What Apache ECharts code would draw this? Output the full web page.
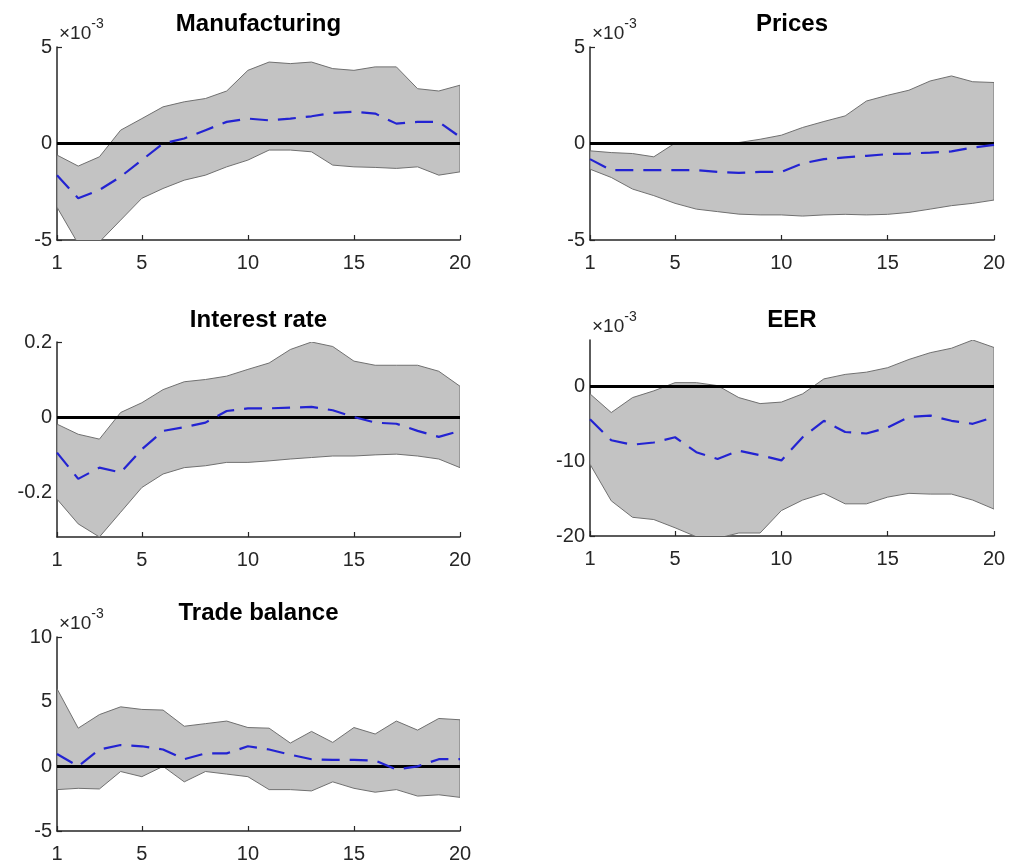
<!DOCTYPE html>
<html>
<head>
<meta charset="utf-8">
<title>Impulse responses</title>
<script src="https://cdn.jsdelivr.net/npm/echarts@6/dist/echarts.min.js"></script>
<style>
  html, body { margin: 0; padding: 0; background: #ffffff; }
  #chart { width: 1013px; height: 867px; }
</style>
</head>
<body>
<div id="chart"></div>
<script>
// Horizons and x tick labels
const horizons = [1, 2, 3, 4, 5, 6, 7, 8, 9, 10, 11, 12, 13, 14, 15, 16, 17, 18, 19, 20];
const xTicks = [1, 5, 10, 15, 20];

// Manufacturing (units of 1e-3): median, lower and upper bands
const mfgMid = [-1.64, -2.84, -2.41, -1.72, -0.86, 0.0, 0.26, 0.69, 1.12, 1.29, 1.2, 1.29, 1.41, 1.59, 1.64, 1.55, 1.03, 1.12, 1.12, 0.34];
const mfgLo  = [-3.3, -5.2, -5.1, -3.97, -2.84, -2.33, -1.9, -1.64, -1.21, -0.86, -0.34, -0.34, -0.43, -1.12, -1.21, -1.24, -1.29, -1.21, -1.64, -1.47];
const mfgHi  = [-0.6, -1.17, -0.69, 0.69, 1.29, 1.9, 2.16, 2.33, 2.72, 3.79, 4.22, 4.14, 4.22, 3.88, 3.79, 3.97, 3.97, 2.84, 2.72, 3.02];

// Prices (units of 1e-3)
const prcMid = [-0.81, -1.38, -1.38, -1.38, -1.38, -1.38, -1.47, -1.52, -1.47, -1.47, -1.03, -0.81, -0.72, -0.64, -0.55, -0.52, -0.47, -0.41, -0.21, -0.07];
const prcLo  = [-1.33, -1.76, -2.36, -2.7, -3.1, -3.4, -3.53, -3.66, -3.7, -3.7, -3.76, -3.7, -3.67, -3.7, -3.67, -3.57, -3.4, -3.22, -3.1, -2.93];
const prcHi  = [-0.38, -0.47, -0.52, -0.69, 0.02, 0.02, 0.03, 0.05, 0.22, 0.43, 0.83, 1.14, 1.43, 2.2, 2.5, 2.76, 3.24, 3.5, 3.2, 3.16];

// Interest rate
const irMid = [-0.095, -0.165, -0.135, -0.148, -0.086, -0.037, -0.027, -0.015, 0.016, 0.023, 0.023, 0.025, 0.027, 0.018, 0.0, -0.015, -0.018, -0.037, -0.053, -0.037];
const irLo  = [-0.219, -0.285, -0.32, -0.254, -0.188, -0.152, -0.135, -0.13, -0.121, -0.121, -0.117, -0.112, -0.108, -0.104, -0.104, -0.101, -0.099, -0.104, -0.112, -0.135];
const irHi  = [-0.019, -0.046, -0.059, 0.012, 0.038, 0.073, 0.094, 0.1, 0.109, 0.127, 0.144, 0.18, 0.2, 0.188, 0.149, 0.138, 0.138, 0.138, 0.122, 0.082];

// EER (units of 1e-3)
const eerMid = [-4.4, -7.2, -7.8, -7.5, -6.8, -8.8, -9.7, -8.6, -9.2, -9.9, -6.8, -4.6, -6.1, -6.3, -5.5, -4.1, -3.9, -4.6, -5.0, -4.1];
const eerLo  = [-10.4, -15.3, -17.5, -17.8, -18.9, -20.1, -20.3, -19.6, -19.6, -16.6, -15.2, -14.3, -15.7, -15.7, -14.8, -14.3, -14.4, -14.4, -15.2, -16.4];
const eerHi  = [-1.0, -3.5, -1.5, -0.6, 0.5, 0.5, 0.1, -1.5, -2.3, -2.1, -1.0, 1.0, 1.6, 1.9, 2.5, 3.6, 4.5, 5.1, 6.2, 5.2];

// Trade balance (units of 1e-3)
const tbMid = [0.95, 0.0, 1.3, 1.65, 1.55, 1.3, 0.55, 1.0, 1.0, 1.55, 1.3, 0.9, 0.55, 0.5, 0.5, 0.45, -0.25, 0.0, 0.55, 0.55];
const tbLo  = [-1.8, -1.7, -1.75, -0.4, -0.8, 0.0, -1.2, -0.4, -0.6, -0.8, -1.8, -1.8, -1.9, -1.2, -1.7, -2.0, -1.8, -2.3, -2.2, -2.4];
const tbHi  = [6.0, 2.95, 4.0, 4.6, 4.4, 4.35, 3.1, 3.3, 3.5, 3.0, 2.95, 1.8, 2.7, 1.85, 3.0, 2.5, 3.5, 2.8, 3.7, 3.6];

// Panel titles, y ranges and y tick labels
const titles = ['Manufacturing', 'Prices', 'Interest rate', 'EER', 'Trade balance'];
const yTicks = [[-5, 0, 5], [-5, 0, 5], [-0.2, 0, 0.2], [-20, -10, 0], [-5, 0, 5, 10]];
const yMins = [-5, -5, -0.32, -20, -5];
const yMaxs = [5, 5, 0.2, 6.2, 10];
const exponents = ['-3', '-3', null, '-3', '-3'];

const series = [
  { mid: mfgMid, lo: mfgLo, hi: mfgHi },
  { mid: prcMid, lo: prcLo, hi: prcHi },
  { mid: irMid, lo: irLo, hi: irHi },
  { mid: eerMid, lo: eerLo, hi: eerHi },
  { mid: tbMid, lo: tbLo, hi: tbHi }
];

// Plot boxes (pixels)
const boxes = [
  { left: 57,  top: 47,  width: 403, height: 193 },
  { left: 590, top: 47,  width: 404, height: 193 },
  { left: 57,  top: 342, width: 403, height: 195 },
  { left: 590, top: 340, width: 404, height: 196 },
  { left: 57,  top: 637, width: 403, height: 194 }
];
const titleTops = [12, 12, 308, 308, 601];

const FONT = "'Liberation Sans', Arial, Helvetica, sans-serif";
const AXIS_COLOR = '#262626';

// Shaded band: one polygon through upper bounds then lower bounds in reverse
function renderBand(params, api) {
  if (params.dataIndexInside !== 0) return null;
  const n = params.dataInsideLength;
  const upper = [];
  const lower = [];
  for (let j = 0; j < n; j++) {
    const x = api.value(0, j);
    upper.push(api.coord([x, api.value(2, j)]));
    lower.push(api.coord([x, api.value(1, j)]));
  }
  return {
    type: 'polygon',
    shape: { points: upper.concat(lower.reverse()) },
    style: { fill: '#c3c3c3', stroke: '#707070', lineWidth: 1 }
  };
}

const option = {
  animation: false,
  backgroundColor: '#ffffff',
  title: titles.map((t, k) => ({
    text: t,
    left: boxes[k].left + boxes[k].width / 2,
    top: titleTops[k],
    textAlign: 'center',
    textVerticalAlign: 'top',
    padding: 0,
    textStyle: { fontFamily: FONT, fontSize: 24, fontWeight: 'bold', color: '#000000' }
  })),
  grid: boxes.map(b => ({ left: b.left, top: b.top, width: b.width, height: b.height, containLabel: false })),
  xAxis: boxes.map((b, k) => ({
    type: 'value',
    gridIndex: k,
    min: 1,
    max: 20,
    axisLine: { show: true, onZero: false, lineStyle: { color: AXIS_COLOR, width: 1.5 } },
    axisTick: { show: true, inside: true, length: 5, customValues: xTicks, lineStyle: { color: AXIS_COLOR, width: 1.2 } },
    axisLabel: { show: true, customValues: xTicks, margin: 13, fontFamily: FONT, fontSize: 20, color: AXIS_COLOR },
    splitLine: { show: false }
  })),
  yAxis: boxes.map((b, k) => ({
    type: 'value',
    gridIndex: k,
    min: yMins[k],
    max: yMaxs[k],
    name: exponents[k] ? '{m|\u00d710}{e|' + exponents[k] + '}' : '',
    nameLocation: 'end',
    nameGap: 4,
    nameTextStyle: {
      align: 'left',
      verticalAlign: 'bottom',
      padding: [0, 0, 0, 2],
      rich: {
        m: { fontFamily: FONT, fontSize: 19, color: AXIS_COLOR, lineHeight: 26, verticalAlign: 'bottom' },
        e: { fontFamily: FONT, fontSize: 14, color: AXIS_COLOR, lineHeight: 26, verticalAlign: 'top' }
      }
    },
    axisLine: { show: true, onZero: false, lineStyle: { color: AXIS_COLOR, width: 1.5 } },
    axisTick: { show: true, inside: true, length: 5, customValues: yTicks[k], lineStyle: { color: AXIS_COLOR, width: 1.2 } },
    axisLabel: { show: true, customValues: yTicks[k], margin: 5, fontFamily: FONT, fontSize: 20, color: AXIS_COLOR },
    splitLine: { show: false }
  })),
  series: []
};

series.forEach((s, k) => {
  option.series.push({
    type: 'custom',
    name: titles[k] + ' band',
    xAxisIndex: k,
    yAxisIndex: k,
    clip: true,
    z: 2,
    silent: true,
    renderItem: renderBand,
    encode: { x: 0, y: [1, 2] },
    data: horizons.map((h, i) => [h, s.lo[i], s.hi[i]]),
    markLine: {
      silent: true,
      symbol: 'none',
      label: { show: false },
      lineStyle: { color: '#000000', width: 3, type: 'solid' },
      data: [{ yAxis: 0 }]
    }
  });
  option.series.push({
    type: 'line',
    name: titles[k],
    xAxisIndex: k,
    yAxisIndex: k,
    z: 5,
    silent: true,
    symbol: 'none',
    showSymbol: false,
    lineStyle: { color: '#2323d2', width: 2.2, type: [18, 10] },
    data: horizons.map((h, i) => [h, s.mid[i]])
  });
});

const chart = echarts.init(document.getElementById('chart'), null, { renderer: 'canvas' });
chart.setOption(option);
</script>
</body>
</html>
